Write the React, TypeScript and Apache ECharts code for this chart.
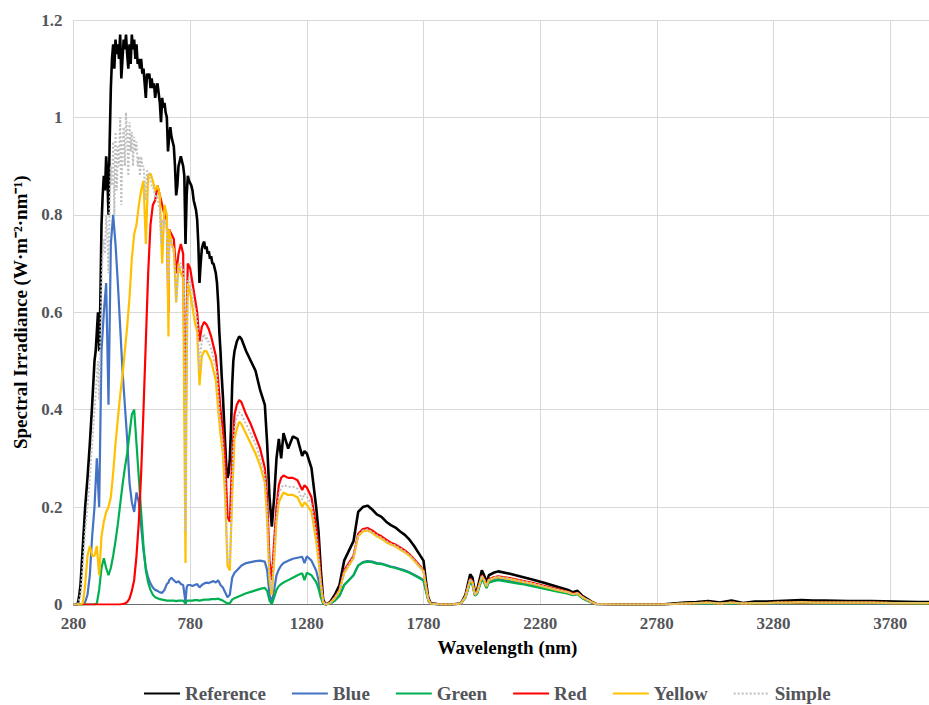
import React, { useEffect, useRef } from "react";
import * as echarts from "echarts";

// Shared wavelength grid (nm) used by Blue, Green, Red and Yellow
const wavelengths = [
  280, 295, 300, 305, 310, 320, 330, 340, 350, 360,
  370, 380, 390, 400, 410, 420, 430, 440, 450, 460,
  470, 480, 490, 500, 510, 520, 530, 540, 550, 560,
  570, 580, 590, 600, 610, 620, 630, 640, 650, 660,
  670, 680, 687, 690, 700, 710, 720, 730, 740, 750,
  760, 765, 770, 780, 790, 800, 810, 820, 830, 840,
  850, 860, 870, 880, 890, 900, 910, 920, 930, 940,
  950, 960, 970, 980, 990, 1000, 1020, 1040, 1060, 1080,
  1100, 1110, 1120, 1130, 1140, 1150, 1160, 1170, 1180, 1200,
  1220, 1240, 1260, 1270, 1280, 1300, 1320, 1330, 1340, 1350,
  1360, 1380, 1400, 1420, 1440, 1460, 1480, 1500, 1520, 1540,
  1560, 1580, 1600, 1620, 1640, 1660, 1680, 1700, 1720, 1740,
  1760, 1780, 1790, 1800, 1810, 1850, 1900, 1940, 1960, 1980,
  1990, 2000, 2010, 2030, 2040, 2050, 2060, 2080, 2100, 2150,
  2200, 2250, 2300, 2350, 2400, 2420, 2440, 2460, 2480, 2500,
  2520, 2600, 2700, 2800, 2850, 2900, 2950, 3000, 3050, 3100,
  3150, 3200, 3250, 3300, 3350, 3400, 3450, 3500, 3600, 3700,
  3800, 3900, 4000,
];

// Denser grid (nm) for Reference and Simple up to 1000 nm
const denseWavelengths = [
  280, 295, 300, 305, 310, 320, 330, 340, 350, 360, 370, 375,
  380, 385, 390, 395, 400, 405, 410, 415, 420, 425,
  430, 435, 440, 445, 450, 455, 460, 465, 470, 475,
  480, 485, 490, 495, 500, 505, 510, 515, 520, 525,
  530, 535, 540, 545, 550, 555, 560, 565, 570, 575,
  580, 585, 590, 595, 600, 605, 610, 615, 620, 625,
  630, 635, 640, 645, 650, 655, 660, 665, 670, 675,
  680, 685, 690, 695, 700, 705, 710, 715, 720, 725,
  730, 735, 740, 745, 750, 755, 760, 765, 770, 775,
  780, 785, 790, 795, 800, 805, 810, 815, 820, 825,
  830, 835, 840, 845, 850, 855, 860, 865, 870, 875,
  880, 885, 890, 895, 900, 905, 910, 915, 920, 925,
  930, 935, 940, 945, 950, 955, 960, 965, 970, 975,
  980, 985, 990, 995, 1000,
];

const referenceVisible = [
  0, 0, 0.005, 0.02, 0.04, 0.12, 0.2, 0.26, 0.33, 0.41, 0.5, 0.52,
  0.56, 0.6, 0.52, 0.62, 0.78, 0.84, 0.88, 0.85, 0.92, 0.88,
  0.8, 0.95, 1.06, 1.12, 1.15, 1.1, 1.16, 1.13, 1.15, 1.12,
  1.17, 1.08, 1.12, 1.16, 1.14, 1.17, 1.13, 1.1, 1.15, 1.11,
  1.17, 1.14, 1.16, 1.12, 1.15, 1.11, 1.12, 1.1, 1.12, 1.09,
  1.1, 1.07, 1.04, 1.09, 1.08, 1.09, 1.06, 1.08, 1.06, 1.07,
  1.04, 1.06, 1.07, 1.05, 1.03, 0.99, 1.04, 1.02, 1.03, 1.01,
  1.0, 0.93, 0.96, 0.98, 0.96, 0.95, 0.94, 0.9, 0.84, 0.86,
  0.9, 0.91, 0.92, 0.91, 0.9, 0.88, 0.74, 0.84, 0.88, 0.87,
  0.865, 0.86, 0.85, 0.83, 0.82, 0.81, 0.79, 0.74, 0.66, 0.7,
  0.73, 0.74, 0.745, 0.73, 0.735, 0.72, 0.725, 0.71, 0.715, 0.7,
  0.7, 0.69, 0.68, 0.66, 0.62, 0.56, 0.52, 0.47, 0.43, 0.38,
  0.33, 0.28, 0.26, 0.27, 0.3, 0.36, 0.45, 0.5, 0.52, 0.53,
  0.54, 0.545, 0.55, 0.548, 0.545,
];

const referenceInfrared = [
  0.52, 0.5, 0.48, 0.44,
  0.41, 0.33, 0.22, 0.16, 0.22, 0.3, 0.34, 0.3, 0.352, 0.32,
  0.345, 0.34, 0.305, 0.315, 0.31, 0.28, 0.2, 0.15, 0.07, 0.01,
  0, 0.005, 0.02, 0.04, 0.09, 0.11, 0.13, 0.19, 0.2, 0.203,
  0.195, 0.185, 0.18, 0.17, 0.163, 0.158, 0.15, 0.143, 0.133, 0.12,
  0.105, 0.09, 0.05, 0.015, 0.003, 0, 0, 0.002, 0.02, 0.062,
  0.055, 0.025, 0.03, 0.07, 0.06, 0.045, 0.06, 0.065, 0.068, 0.063,
  0.057, 0.051, 0.044, 0.037, 0.03, 0.025, 0.028, 0.018, 0.012, 0.006,
  0.001, 0, 0, 0, 0.002, 0.004, 0.005, 0.007, 0.004, 0.008,
  0.003, 0.006, 0.006, 0.007, 0.008, 0.009, 0.008, 0.008, 0.007, 0.007,
  0.006, 0.005, 0.005,
];

const simpleVisible = [
  0, 0, 0.002, 0.01, 0.02, 0.08, 0.15, 0.2, 0.26, 0.33, 0.4, 0.43,
  0.47, 0.5, 0.42, 0.55, 0.66, 0.72, 0.75, 0.72, 0.8, 0.76,
  0.68, 0.82, 0.9, 0.86, 0.95, 0.8, 0.97, 0.85, 0.94, 0.9,
  1.0, 0.82, 0.95, 0.98, 0.9, 1.01, 0.96, 0.88, 0.99, 0.93,
  0.97, 0.9, 0.96, 0.93, 0.95, 0.9, 0.92, 0.88, 0.92, 0.9,
  0.9, 0.87, 0.83, 0.89, 0.89, 0.88, 0.87, 0.86, 0.86, 0.85,
  0.84, 0.83, 0.84, 0.82, 0.81, 0.74, 0.79, 0.78, 0.79, 0.78,
  0.77, 0.66, 0.74, 0.75, 0.74, 0.73, 0.72, 0.69, 0.62, 0.65,
  0.69, 0.7, 0.7, 0.69, 0.69, 0.66, 0.15, 0.55, 0.67, 0.67,
  0.66, 0.65, 0.64, 0.62, 0.61, 0.6, 0.58, 0.54, 0.48, 0.52,
  0.54, 0.55, 0.555, 0.545, 0.55, 0.54, 0.54, 0.53, 0.525, 0.515,
  0.505, 0.495, 0.485, 0.47, 0.43, 0.4, 0.37, 0.35, 0.33, 0.29,
  0.25, 0.17, 0.1, 0.085, 0.09, 0.16, 0.25, 0.32, 0.36, 0.375,
  0.385, 0.39, 0.395, 0.393, 0.39,
];

const simpleInfrared = [
  0.37, 0.35, 0.33, 0.3,
  0.265, 0.19, 0.06, 0.03, 0.11, 0.18, 0.225, 0.24, 0.245, 0.242,
  0.242, 0.238, 0.215, 0.228, 0.222, 0.205, 0.145, 0.1, 0.045, 0.006,
  0, 0.003, 0.014, 0.029, 0.067, 0.082, 0.097, 0.142, 0.152, 0.154,
  0.149, 0.142, 0.137, 0.13, 0.125, 0.121, 0.115, 0.109, 0.101, 0.091,
  0.08, 0.069, 0.039, 0.011, 0.002, 0, 0, 0.002, 0.016, 0.052,
  0.046, 0.02, 0.025, 0.059, 0.051, 0.038, 0.051, 0.055, 0.057, 0.053,
  0.048, 0.043, 0.037, 0.031, 0.025, 0.021, 0.023, 0.015, 0.01, 0.005,
  0.001, 0, 0, 0, 0.001, 0.002, 0.003, 0.004, 0.002, 0.004,
  0.002, 0.003, 0.003, 0.004, 0.004, 0.005, 0.004, 0.004, 0.004, 0.004,
  0.003, 0.003, 0.003,
];

const blueValues = [
  0, 0, 0, 0, 0, 0, 0.005, 0.02, 0.06, 0.14,
  0.2, 0.3, 0.2, 0.52, 0.6, 0.66, 0.41, 0.74, 0.8, 0.74,
  0.66, 0.57, 0.48, 0.41, 0.34, 0.25, 0.21, 0.19, 0.23, 0.21,
  0.16, 0.11, 0.075, 0.055, 0.043, 0.035, 0.03, 0.028, 0.025, 0.024,
  0.03, 0.042, 0.045, 0.05, 0.055, 0.05, 0.045, 0.048, 0.042, 0.04,
  0.005, 0.035, 0.04, 0.04, 0.038, 0.04, 0.042, 0.035, 0.04, 0.043,
  0.045, 0.044, 0.046, 0.048, 0.045, 0.05, 0.04, 0.035, 0.025, 0.015,
  0.02, 0.055, 0.065, 0.07, 0.075, 0.08, 0.085, 0.087, 0.089, 0.09,
  0.088, 0.07, 0.02, 0.005, 0.03, 0.06, 0.072, 0.08, 0.085, 0.09,
  0.094, 0.096, 0.098, 0.085, 0.099, 0.09, 0.07, 0.05, 0.02, 0.002,
  0, 0.002, 0.008, 0.018, 0.04, 0.05, 0.06, 0.08, 0.087, 0.089,
  0.088, 0.085, 0.084, 0.081, 0.078, 0.076, 0.073, 0.07, 0.066, 0.061,
  0.056, 0.05, 0.03, 0.009, 0.001, 0, 0, 0.002, 0.015, 0.048,
  0.042, 0.019, 0.023, 0.054, 0.047, 0.035, 0.047, 0.05, 0.052, 0.048,
  0.044, 0.039, 0.034, 0.028, 0.023, 0.02, 0.022, 0.014, 0.009, 0.004,
  0.001, 0, 0, 0, 0.001, 0.002, 0.002, 0.003, 0.002, 0.003,
  0.002, 0.002, 0.003, 0.003, 0.003, 0.004, 0.003, 0.003, 0.003, 0.003,
  0.003, 0.002, 0.002,
];

const greenValues = [
  0, 0, 0, 0, 0, 0, 0, 0, 0, 0,
  0, 0.002, 0.03, 0.075, 0.095, 0.075, 0.06, 0.075, 0.1, 0.13,
  0.165, 0.205, 0.245, 0.28, 0.31, 0.35, 0.39, 0.4, 0.33, 0.26,
  0.19, 0.12, 0.07, 0.045, 0.03, 0.02, 0.015, 0.013, 0.011, 0.01,
  0.009, 0.008, 0.008, 0.008, 0.008, 0.008, 0.007, 0.008, 0.008, 0.008,
  0.002, 0.007, 0.008, 0.008, 0.008, 0.009, 0.009, 0.008, 0.009, 0.01,
  0.01, 0.01, 0.011, 0.011, 0.011, 0.012, 0.01, 0.008, 0.005, 0.002,
  0.003, 0.01, 0.013, 0.015, 0.017, 0.019, 0.023, 0.026, 0.029, 0.032,
  0.034, 0.028, 0.008, 0.001, 0.015, 0.03, 0.038, 0.042, 0.045, 0.05,
  0.055, 0.06, 0.064, 0.05, 0.065, 0.06, 0.046, 0.033, 0.014, 0.002,
  0, 0.002, 0.008, 0.018, 0.04, 0.05, 0.06, 0.08, 0.086, 0.088,
  0.087, 0.084, 0.083, 0.08, 0.077, 0.075, 0.072, 0.069, 0.065, 0.06,
  0.055, 0.049, 0.029, 0.009, 0.001, 0, 0, 0.002, 0.014, 0.046,
  0.04, 0.018, 0.022, 0.052, 0.045, 0.034, 0.045, 0.048, 0.05, 0.046,
  0.042, 0.037, 0.032, 0.027, 0.022, 0.019, 0.021, 0.013, 0.008, 0.004,
  0.001, 0, 0, 0, 0.001, 0.002, 0.002, 0.003, 0.002, 0.003,
  0.002, 0.002, 0.003, 0.003, 0.003, 0.004, 0.003, 0.003, 0.003, 0.003,
  0.003, 0.002, 0.002,
];

const redValues = [
  0, 0, 0, 0, 0, 0, 0, 0, 0, 0,
  0, 0, 0, 0, 0, 0, 0, 0, 0, 0,
  0, 0, 0.001, 0.002, 0.005, 0.012, 0.028, 0.05, 0.1, 0.17,
  0.27, 0.4, 0.54, 0.68, 0.78, 0.82, 0.83, 0.86, 0.84, 0.82,
  0.8, 0.79, 0.6, 0.77, 0.76, 0.75, 0.68, 0.72, 0.74, 0.72,
  0.3, 0.6, 0.7, 0.69, 0.66, 0.63, 0.6, 0.54, 0.57, 0.58,
  0.575, 0.565, 0.55, 0.53, 0.51, 0.46, 0.4, 0.36, 0.3, 0.18,
  0.17, 0.3, 0.39, 0.41, 0.42, 0.415, 0.39, 0.37, 0.345, 0.32,
  0.28, 0.22, 0.09, 0.05, 0.13, 0.2, 0.245, 0.26, 0.265, 0.26,
  0.26, 0.255, 0.235, 0.245, 0.24, 0.22, 0.16, 0.12, 0.05, 0.008,
  0, 0.004, 0.015, 0.03, 0.07, 0.085, 0.1, 0.145, 0.155, 0.157,
  0.152, 0.145, 0.14, 0.133, 0.127, 0.123, 0.117, 0.111, 0.103, 0.093,
  0.082, 0.07, 0.04, 0.012, 0.002, 0, 0, 0.002, 0.017, 0.053,
  0.047, 0.021, 0.026, 0.06, 0.052, 0.039, 0.052, 0.056, 0.058, 0.054,
  0.049, 0.044, 0.038, 0.032, 0.026, 0.022, 0.024, 0.016, 0.01, 0.005,
  0.001, 0, 0, 0, 0.001, 0.002, 0.003, 0.004, 0.002, 0.004,
  0.002, 0.003, 0.003, 0.004, 0.004, 0.005, 0.004, 0.004, 0.004, 0.004,
  0.003, 0.003, 0.003,
];

const yellowValues = [
  0, 0, 0, 0, 0, 0.003, 0.04, 0.1, 0.12, 0.1,
  0.1, 0.12, 0.06, 0.14, 0.17, 0.19, 0.2, 0.22, 0.27, 0.33,
  0.38, 0.43, 0.47, 0.52, 0.57, 0.63, 0.71, 0.76, 0.78, 0.82,
  0.85, 0.87, 0.74, 0.88, 0.885, 0.87, 0.85, 0.86, 0.84, 0.7,
  0.82, 0.8, 0.55, 0.77, 0.74, 0.73, 0.62, 0.7, 0.68, 0.67,
  0.085, 0.5, 0.66, 0.64, 0.61, 0.58, 0.56, 0.45, 0.51, 0.52,
  0.52, 0.51, 0.5, 0.48, 0.46, 0.4, 0.35, 0.31, 0.22, 0.08,
  0.07, 0.22, 0.34, 0.36, 0.375, 0.37, 0.35, 0.33, 0.31, 0.285,
  0.25, 0.17, 0.05, 0.02, 0.09, 0.17, 0.21, 0.22, 0.23, 0.225,
  0.225, 0.22, 0.2, 0.21, 0.205, 0.19, 0.13, 0.09, 0.04, 0.005,
  0, 0.003, 0.013, 0.028, 0.065, 0.08, 0.095, 0.14, 0.15, 0.152,
  0.147, 0.14, 0.135, 0.128, 0.123, 0.119, 0.113, 0.107, 0.1, 0.09,
  0.079, 0.068, 0.038, 0.011, 0.002, 0, 0, 0.002, 0.016, 0.051,
  0.045, 0.02, 0.025, 0.058, 0.05, 0.037, 0.05, 0.054, 0.056, 0.052,
  0.047, 0.042, 0.036, 0.03, 0.025, 0.021, 0.023, 0.015, 0.01, 0.005,
  0.001, 0, 0, 0, 0.001, 0.002, 0.003, 0.004, 0.002, 0.004,
  0.002, 0.003, 0.003, 0.004, 0.004, 0.005, 0.004, 0.004, 0.004, 0.004,
  0.003, 0.003, 0.003,
];

const seriesNames = ["Reference", "Blue", "Green", "Red", "Yellow", "Simple"];
const seriesColors = ["#000000", "#4472C4", "#00B050", "#FF0000", "#FFC000", "#BFBFBF"];

const FONT = "Liberation Serif";

function pairs(xs: number[], ys: number[]) {
  return xs.map((x, k) => [x, ys[k]]);
}

export default function App() {
  const ref = useRef<HTMLDivElement>(null);
  useEffect(() => {
    if (!ref.current) return;
    const chart = echarts.init(ref.current, null, { renderer: "svg" });
    const infraredWavelengths = wavelengths.filter((w) => w > 1000);
    const seriesData = [
      pairs(denseWavelengths.concat(infraredWavelengths), referenceVisible.concat(referenceInfrared)),
      pairs(wavelengths, blueValues),
      pairs(wavelengths, greenValues),
      pairs(wavelengths, redValues),
      pairs(wavelengths, yellowValues),
      pairs(denseWavelengths.concat(infraredWavelengths), simpleVisible.concat(simpleInfrared)),
    ];
    const series = seriesNames.map((name, i) => ({
      name,
      type: "line",
      symbol: "none",
      showSymbol: false,
      z: 2 + i,
      data: seriesData[i],
      lineStyle: {
        color: seriesColors[i],
        width: i === 0 ? 2.6 : i === 5 ? 2 : 2.2,
        type: i === 5 ? "dotted" : "solid",
      },
      itemStyle: { color: seriesColors[i] },
    }));
    const labelFmt = (v: number) => String(v);
    chart.setOption({
      animation: false,
      grid: { left: 73.5, right: -12.5, top: 20, bottom: 100.5, outerBoundsMode: "none" },
      legend: {
        left: 143,
        top: 684,
        padding: 0,
        itemWidth: 36,
        itemHeight: 10,
        itemGap: 25,
        itemStyle: { opacity: 0 },
        data: seriesNames,
        textStyle: { fontFamily: FONT, fontSize: 19, fontWeight: "bold" },
      },
      xAxis: {
        type: "value",
        min: 280,
        max: 4000,
        interval: 500,
        name: "Wavelength (nm)",
        nameLocation: "middle",
        nameGap: 33,
        nameTextStyle: { fontFamily: FONT, fontSize: 19, fontWeight: "bold" },
        axisLine: { show: true, lineStyle: { color: "#000000", opacity: 0.5, width: 1 } },
        axisTick: { show: false },
        axisLabel: {
          fontFamily: FONT,
          fontSize: 17,
          fontWeight: "bold",
          margin: 10,
          showMaxLabel: false,
          formatter: labelFmt,
        },
        splitLine: { show: true, lineStyle: { color: "#d9d9d9", width: 1 } },
      },
      yAxis: {
        type: "value",
        min: 0,
        max: 1.2,
        interval: 0.2,
        name: "Spectral Irradiance (W·m⁻²·nm⁻¹)",
        nameLocation: "middle",
        nameGap: 41,
        nameTextStyle: { fontFamily: FONT, fontSize: 19, fontWeight: "bold" },
        axisLine: { show: false, lineStyle: { color: "#000000" } },
        axisTick: { show: false },
        axisLabel: {
          fontFamily: FONT,
          fontSize: 17,
          fontWeight: "bold",
          margin: 11,
          formatter: labelFmt,
        },
        splitLine: { show: true, lineStyle: { color: "#d9d9d9", width: 1 } },
      },
      series,
    });
    return () => chart.dispose();
  }, []);
  return (
    <div
      ref={ref}
      style={{ position: "fixed", left: 0, top: 0, width: 929, height: 705, background: "#fff" }}
    />
  );
}
